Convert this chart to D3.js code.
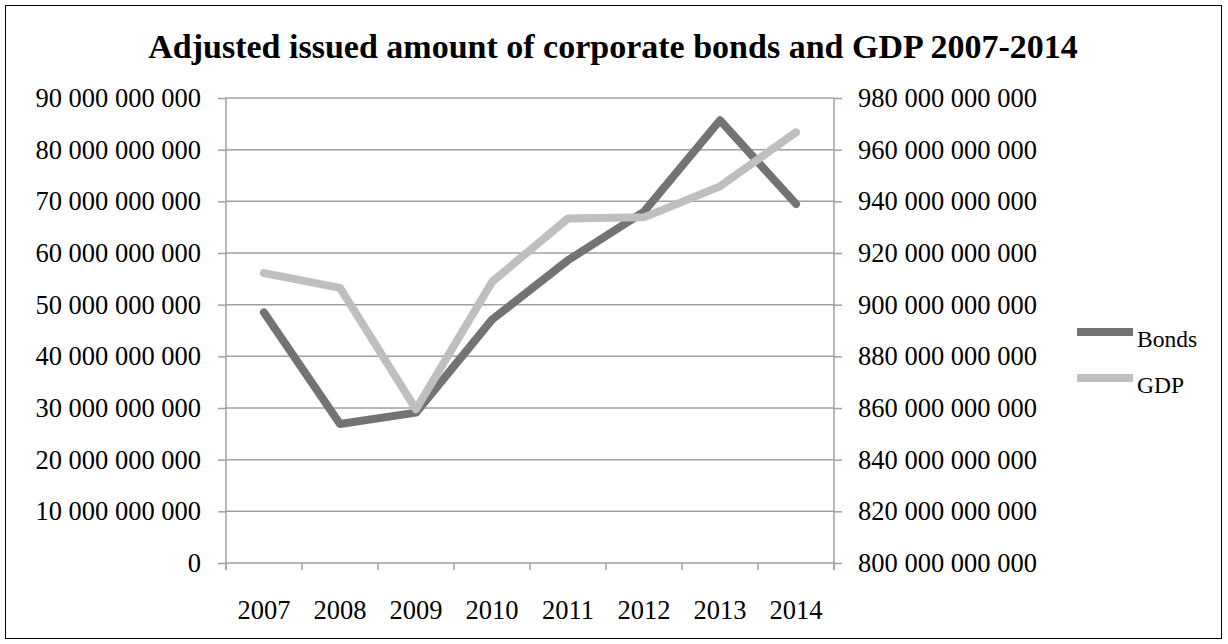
<!DOCTYPE html>
<html lang="en">
<head>
<meta charset="utf-8">
<title>Bonds and GDP</title>
<script src="https://d3js.org/d3.v7.min.js"></script>
<style>
  body { margin: 0; background: #fff; }
  text { font-family: "Liberation Serif", "Times New Roman", serif; fill: #000; }
  .title { font-size: 34px; font-weight: bold; }
  .tick text { font-size: 26.5px; }
  .legend text { font-size: 23.5px; }
  path.domain { display: none; }
</style>
</head>
<body>
<div id="chart"></div>
<script>
// data
const years = ["2007", "2008", "2009", "2010", "2011", "2012", "2013", "2014"];
const bonds = [48.5e9, 26.9e9, 29.1e9, 47.1e9, 58.6e9, 68.0e9, 85.7e9, 69.5e9];
const gdp = [912.2e9, 906.5e9, 859.5e9, 908.8e9, 933.4e9, 933.8e9, 945.8e9, 966.7e9];
const leftTicks = d3.range(0, 90e9 + 1, 10e9);
const rightTicks = d3.range(800e9, 980e9 + 1, 20e9);

const W = 1228, H = 644;
const margin = { top: 98, right: 394, bottom: 81, left: 226 };

const svg = d3.select("#chart").append("svg")
  .attr("width", W)
  .attr("height", H);

// outer frame
svg.append("rect")
  .attr("x", 5.5).attr("y", 5.5)
  .attr("width", 1216).attr("height", 633)
  .attr("fill", "#fff")
  .attr("stroke", "#000")
  .attr("stroke-width", 1);

const x = d3.scaleBand()
  .domain(years)
  .range([margin.left, W - margin.right]);

const yL = d3.scaleLinear()
  .domain([0, 90e9])
  .range([H - margin.bottom, margin.top]);

const yR = d3.scaleLinear()
  .domain([800e9, 980e9])
  .range([H - margin.bottom, margin.top]);

const fmt = d => d3.format(",")(d).replace(/,/g, " ");
const gridCol = "#a0a0a0";

// gridlines
svg.append("g")
  .selectAll("line")
  .data(leftTicks)
  .join("line")
  .attr("x1", margin.left)
  .attr("x2", W - margin.right)
  .attr("y1", d => yL(d))
  .attr("y2", d => yL(d))
  .attr("stroke", gridCol)
  .attr("stroke-width", 1.5);

// left axis
const gl = svg.append("g")
  .attr("transform", `translate(${margin.left},0)`)
  .call(d3.axisLeft(yL).tickValues(leftTicks).tickFormat(fmt).tickSize(8).tickPadding(17));
gl.append("line")
  .attr("y1", yL(0) + 7).attr("y2", yL(90e9))
  .attr("stroke", gridCol).attr("stroke-width", 1.5);

// right axis
const gr = svg.append("g")
  .attr("transform", `translate(${W - margin.right},0)`)
  .call(d3.axisRight(yR).tickValues(rightTicks).tickFormat(fmt).tickSize(8).tickPadding(16));
gr.append("line")
  .attr("y1", yR(800e9) + 7).attr("y2", yR(980e9))
  .attr("stroke", gridCol).attr("stroke-width", 1.5);

svg.selectAll(".tick line").attr("stroke", gridCol).attr("stroke-width", 1.5);

// bottom axis: tick marks at category boundaries
const gx = svg.append("g")
  .attr("transform", `translate(0,${H - margin.bottom})`);
gx.selectAll("line.cat")
  .data(years.concat(["end"]))
  .join("line")
  .attr("class", "cat")
  .attr("x1", (d, i) => margin.left + i * x.step())
  .attr("x2", (d, i) => margin.left + i * x.step())
  .attr("y1", 0).attr("y2", 7)
  .attr("stroke", gridCol).attr("stroke-width", 1.5);
gx.selectAll("text")
  .data(years)
  .join("text")
  .attr("x", d => x(d) + x.bandwidth() / 2)
  .attr("y", 56)
  .attr("text-anchor", "middle")
  .style("font-size", "26.5px")
  .text(d => d);

// lines
const lineL = d3.line().x((d, i) => x(years[i]) + x.bandwidth() / 2).y(d => yL(d));
const lineR = d3.line().x((d, i) => x(years[i]) + x.bandwidth() / 2).y(d => yR(d));

svg.append("path")
  .datum(bonds)
  .attr("d", lineL)
  .attr("fill", "none")
  .attr("stroke", "#737373")
  .attr("stroke-width", 8)
  .attr("stroke-linejoin", "round")
  .attr("stroke-linecap", "round");

svg.append("path")
  .datum(gdp)
  .attr("d", lineR)
  .attr("fill", "none")
  .attr("stroke", "#bfbfbf")
  .attr("stroke-width", 8)
  .attr("stroke-linejoin", "round")
  .attr("stroke-linecap", "round");

// title
svg.append("text")
  .attr("class", "title")
  .attr("x", 613)
  .attr("y", 58)
  .attr("text-anchor", "middle")
  .text("Adjusted issued amount of corporate bonds and GDP 2007-2014");

// legend
const legend = svg.append("g").attr("class", "legend");
const items = [{ name: "Bonds", col: "#737373" }, { name: "GDP", col: "#bfbfbf" }];
legend.selectAll("line")
  .data(items)
  .join("line")
  .attr("x1", 1077).attr("x2", 1133)
  .attr("y1", (d, i) => 332 + i * 46)
  .attr("y2", (d, i) => 332 + i * 46)
  .attr("stroke", d => d.col)
  .attr("stroke-width", 8);
legend.selectAll("text")
  .data(items)
  .join("text")
  .attr("x", 1137)
  .attr("y", (d, i) => 347 + i * 46)
  .text(d => d.name);
</script>
</body>
</html>
